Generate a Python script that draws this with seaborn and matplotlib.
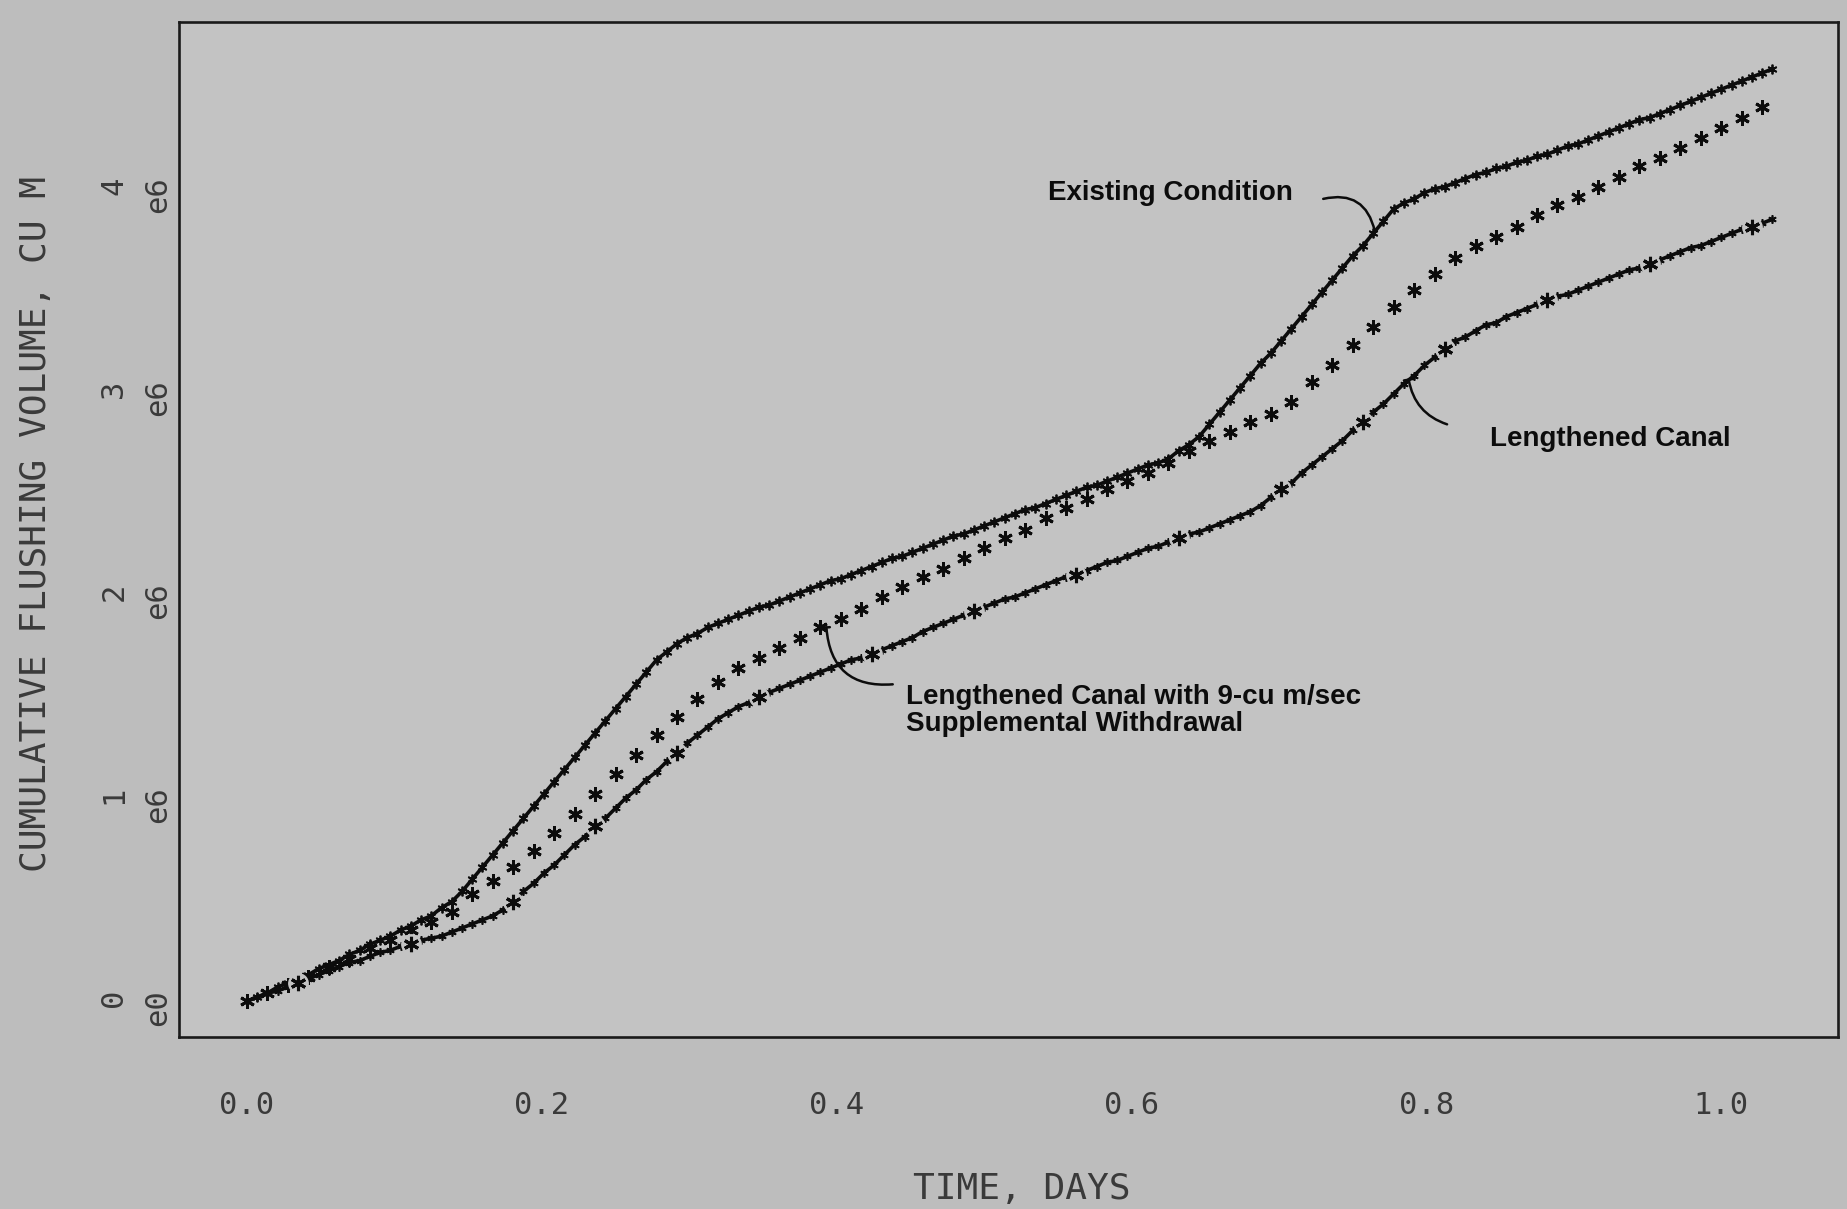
import numpy as np
import matplotlib
matplotlib.use("Agg")
import matplotlib.pyplot as plt
import seaborn as sns

# Output times (days): 10-minute steps for the two continuous runs,
# 20-minute steps for the supplemental-withdrawal run
t_fine = np.arange(150) * 10 / 1440
t_coarse = np.arange(75) * 20 / 1440

# Cumulative flushing volume, millions of cubic metres
existing = [
    0.03, 0.05, 0.07, 0.10, 0.12, 0.14, 0.16, 0.19, 0.21, 0.23,
    0.26, 0.28, 0.31, 0.33, 0.35, 0.38, 0.40, 0.43, 0.45, 0.49,
    0.52, 0.57, 0.63, 0.69, 0.75, 0.81, 0.87, 0.93, 0.99, 1.05,
    1.11, 1.17, 1.23, 1.29, 1.35, 1.41, 1.47, 1.53, 1.59, 1.65,
    1.71, 1.75, 1.79, 1.82, 1.84, 1.87, 1.89, 1.91, 1.93, 1.95,
    1.97, 1.98, 2.00, 2.02, 2.04, 2.06, 2.08, 2.10, 2.11, 2.13,
    2.15, 2.17, 2.19, 2.21, 2.22, 2.24, 2.26, 2.28, 2.30, 2.32,
    2.33, 2.35, 2.37, 2.39, 2.41, 2.43, 2.45, 2.46, 2.48, 2.50,
    2.52, 2.54, 2.56, 2.57, 2.59, 2.61, 2.63, 2.65, 2.67, 2.68,
    2.70, 2.74, 2.77, 2.81, 2.87, 2.93, 2.99, 3.05, 3.11, 3.17,
    3.22, 3.28, 3.34, 3.40, 3.46, 3.52, 3.58, 3.64, 3.70, 3.75,
    3.81, 3.87, 3.93, 3.96, 3.98, 4.01, 4.03, 4.04, 4.06, 4.08,
    4.10, 4.11, 4.13, 4.14, 4.16, 4.17, 4.19, 4.20, 4.22, 4.24,
    4.25, 4.27, 4.29, 4.31, 4.33, 4.35, 4.37, 4.38, 4.40, 4.42,
    4.44, 4.46, 4.48, 4.50, 4.52, 4.54, 4.56, 4.58, 4.60, 4.62,
]

supplemental = [
    0.03, 0.07, 0.11, 0.15, 0.20, 0.24, 0.29, 0.33, 0.38, 0.42,
    0.47, 0.56, 0.62, 0.69, 0.77, 0.86, 0.95, 1.05, 1.15, 1.24,
    1.34, 1.43, 1.52, 1.60, 1.67, 1.72, 1.77, 1.82, 1.87, 1.91,
    1.96, 2.02, 2.07, 2.12, 2.16, 2.21, 2.26, 2.31, 2.35, 2.41,
    2.46, 2.50, 2.55, 2.59, 2.63, 2.68, 2.74, 2.79, 2.83, 2.88,
    2.92, 2.98, 3.08, 3.16, 3.26, 3.35, 3.45, 3.53, 3.61, 3.69,
    3.75, 3.79, 3.84, 3.90, 3.95, 3.99, 4.04, 4.09, 4.14, 4.18,
    4.23, 4.28, 4.33, 4.38, 4.43,
]

lengthened = [
    0.03, 0.05, 0.07, 0.08, 0.10, 0.12, 0.14, 0.16, 0.18, 0.20,
    0.22, 0.23, 0.25, 0.27, 0.28, 0.30, 0.31, 0.33, 0.34, 0.35,
    0.37, 0.39, 0.41, 0.43, 0.45, 0.48, 0.52, 0.57, 0.61, 0.66,
    0.70, 0.75, 0.80, 0.84, 0.89, 0.93, 0.98, 1.03, 1.07, 1.12,
    1.16, 1.21, 1.25, 1.30, 1.34, 1.38, 1.42, 1.45, 1.48, 1.50,
    1.53, 1.55, 1.57, 1.59, 1.61, 1.63, 1.65, 1.67, 1.69, 1.71,
    1.72, 1.74, 1.76, 1.78, 1.80, 1.82, 1.85, 1.87, 1.89, 1.91,
    1.93, 1.95, 1.97, 1.99, 2.01, 2.02, 2.04, 2.06, 2.08, 2.10,
    2.12, 2.13, 2.15, 2.17, 2.19, 2.20, 2.22, 2.24, 2.26, 2.27,
    2.29, 2.31, 2.33, 2.34, 2.36, 2.38, 2.40, 2.42, 2.44, 2.47,
    2.51, 2.55, 2.58, 2.63, 2.67, 2.71, 2.75, 2.79, 2.84, 2.88,
    2.93, 2.97, 3.02, 3.07, 3.11, 3.16, 3.20, 3.24, 3.28, 3.30,
    3.33, 3.36, 3.37, 3.40, 3.42, 3.44, 3.46, 3.48, 3.50, 3.51,
    3.53, 3.55, 3.57, 3.59, 3.61, 3.63, 3.64, 3.66, 3.68, 3.70,
    3.72, 3.74, 3.75, 3.77, 3.79, 3.81, 3.83, 3.84, 3.86, 3.88,
]

x_ticks = [0.0, 0.2, 0.4, 0.6, 0.8, 1.0]
x_tick_labels = ["0.0", "0.2", "0.4", "0.6", "0.8", "1.0"]
y_ticks = [0, 1, 2, 3, 4]
y_tick_labels = ["0\ne0", "1\ne6", "2\ne6", "3\ne6", "4\ne6"]

PAPER = "#bdbdbd"
PANEL = "#c3c3c3"
INK = "#0c0c0c"
PEN = "#3a3a3a"
STAR = (6, 2, 0)

sns.set_style("white")
plt.rcParams["font.family"] = ["DejaVu Sans Mono", "DejaVu Sans"]

fig = plt.figure(figsize=(18.47, 12.09), dpi=100, facecolor=PAPER)
ax = fig.add_axes([0.097, 0.142, 0.898, 0.840], facecolor=PANEL)

# Existing condition: solid line with small symbols at every output step
sns.lineplot(x=t_fine, y=existing, ax=ax, color=INK, lw=2.6,
             marker=STAR, markersize=7, markeredgewidth=1.3,
             markeredgecolor=INK, legend=False, zorder=4)

# Lengthened canal with supplemental withdrawal: symbols only
sns.lineplot(x=t_coarse, y=supplemental, ax=ax, color=INK, linestyle="",
             marker=STAR, markersize=10.5, markeredgewidth=2.1,
             markeredgecolor=INK, legend=False, zorder=5)

# Lengthened canal: line with small ticks, large symbols set along the
# curve at equal spacing with the line blanked around them
sns.lineplot(x=t_fine, y=lengthened, ax=ax, color=INK, lw=2.6,
             marker=STAR, markersize=6, markeredgewidth=1.2,
             markeredgecolor=INK, legend=False, zorder=4)
sns.lineplot(x=t_fine, y=lengthened, ax=ax, linestyle="", marker="o",
             markersize=15, markerfacecolor=PANEL, markeredgewidth=0,
             markevery=(0.03, 0.057), legend=False, zorder=5)
sns.lineplot(x=t_fine, y=lengthened, ax=ax, linestyle="", marker=STAR,
             markersize=11, markeredgewidth=2.2, markeredgecolor=INK,
             markevery=(0.03, 0.057), legend=False, zorder=6)

ax.set_xlim(-0.046, 1.079)
ax.set_ylim(-0.148, 4.852)

ax.set_xticks(x_ticks)
ax.set_xticklabels(x_tick_labels)
ax.set_yticks(y_ticks)
ax.set_yticklabels(y_tick_labels, rotation=90, va="center",
                   ha="right", linespacing=1.65)

ax.tick_params(axis="x", direction="out", length=17, width=1.3,
               color=PEN, pad=22, labelsize=22, labelcolor=PEN)
ax.tick_params(axis="y", direction="out", length=4, width=1.3,
               color=PEN, pad=1, labelsize=22, labelcolor=PEN)

for side in ["left", "right", "top", "bottom"]:
    ax.spines[side].set_visible(True)
    ax.spines[side].set_color("#1a1a1a")
    ax.spines[side].set_linewidth(1.9)

ax.set_xlabel("TIME, DAYS", fontsize=26, color=PEN)
ax.set_ylabel("CUMULATIVE FLUSHING VOLUME, CU M", fontsize=26, color=PEN)
ax.xaxis.set_label_coords(0.508, -0.133)
ax.yaxis.set_label_coords(-0.076, 0.505)

note = dict(fontsize=20, fontweight="bold", color=INK,
            family=["Liberation Sans", "DejaVu Sans"])
leader = dict(lw=1.8, color=INK, shrinkA=0, shrinkB=0)

ax.text(0.543, 4.01, "Existing Condition", ha="left", va="center", **note)
ax.annotate("", xy=(0.765, 3.82), xytext=(0.730, 3.98),
            arrowprops=dict(arrowstyle="-",
                            connectionstyle="arc3,rad=-0.5", **leader))

ax.text(0.843, 2.80, "Lengthened Canal", ha="left", va="center", **note)
ax.annotate("", xy=(0.788, 3.09), xytext=(0.814, 2.87),
            arrowprops=dict(arrowstyle="-[, widthB=0.35, lengthB=0.0",
                            connectionstyle="arc3,rad=-0.3", **leader))

ax.text(0.447, 1.46,
        "Lengthened Canal with 9-cu m/sec\nSupplemental Withdrawal",
        ha="left", va="center", linespacing=1.05, **note)
ax.annotate("", xy=(0.393, 1.87), xytext=(0.438, 1.59),
            arrowprops=dict(arrowstyle="-[, widthB=0.25, lengthB=0.0",
                            connectionstyle="arc3,rad=-0.5", **leader))

fig.savefig("out.png", dpi=100, facecolor=PAPER)
